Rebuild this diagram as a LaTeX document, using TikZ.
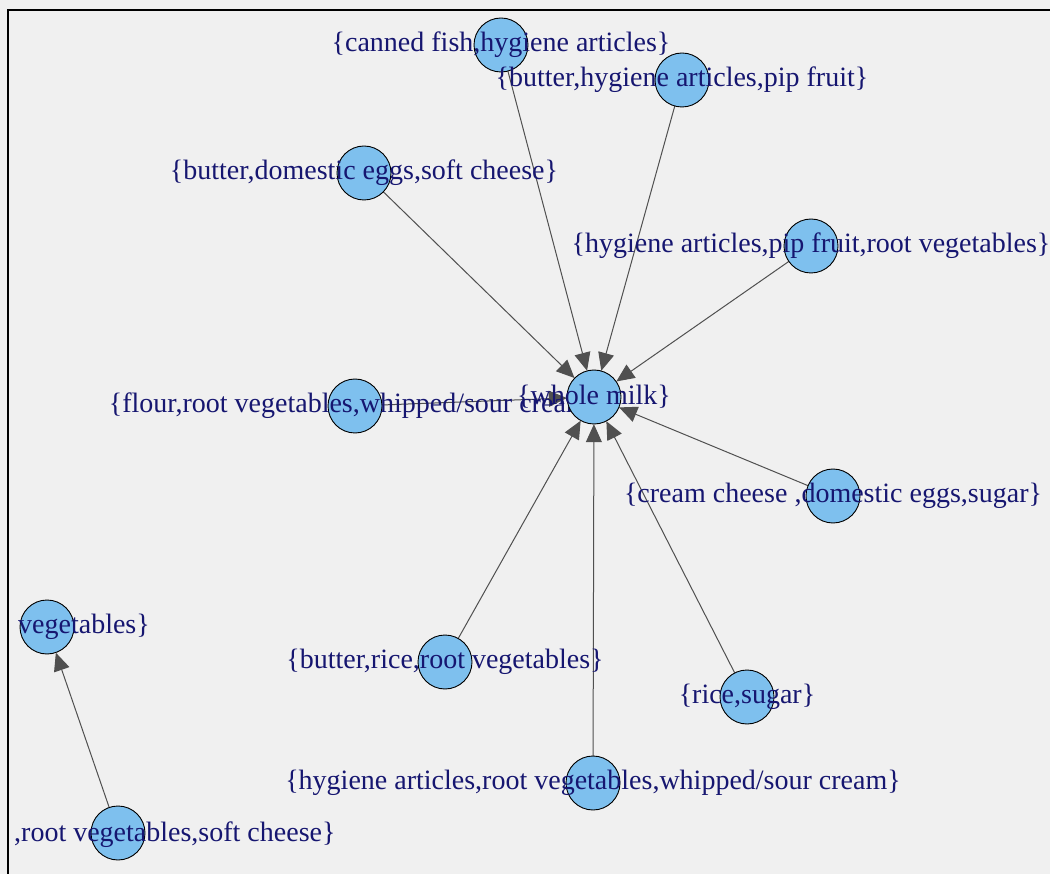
\documentclass[tikz,border=0pt]{standalone}
\usepackage{fontspec}
\setmainfont{Liberation Serif}
\usetikzlibrary{arrows.meta}
\definecolor{bg}{HTML}{F0F0F0}
\definecolor{vfill}{HTML}{7EC0EE}
\definecolor{lbl}{RGB}{22,22,112}
\definecolor{edgecol}{HTML}{505050}
\tikzset{
  vert/.style={circle,draw=black,line width=0.9pt,fill=vfill,minimum size=54pt,inner sep=0pt},
  lab/.style={text=lbl,font=\fontsize{28}{30}\selectfont,inner sep=0pt},
  edge/.style={draw=edgecol,line width=1pt,-{Triangle[length=18pt,width=16pt]}}
}
\begin{document}
\begin{tikzpicture}[x=1pt,y=-1pt]
\fill[bg] (0,0) rectangle (1050,874);
\useasboundingbox (0,0) rectangle (1050,874);
\draw[line width=2.2pt] (8,874) -- (8,10) -- (1050,10);
% vertex positions
\path
  (594,397) coordinate (pwm)
  (501,45) coordinate (pcf)
  (682,80) coordinate (pbhp)
  (364,173) coordinate (pbds)
  (811,246) coordinate (phpr)
  (355,406) coordinate (pfrw)
  (833,496) coordinate (pcds)
  (445,662) coordinate (pbrr)
  (747,697) coordinate (prs)
  (593,783) coordinate (phrw)
  (47,627) coordinate (pveg)
  (118,833) coordinate (prvs);
% invisible shape nodes for edges
\foreach \n in {wm,cf,bhp,bds,hpr,frw,cds,brr,rs,hrw,veg,rvs}
  \node[circle,minimum size=54pt,inner sep=0pt] (\n) at (p\n) {};
% edges
\draw[edge] (cf) -- (wm);
\draw[edge] (bhp) -- (wm);
\draw[edge] (bds) -- (wm);
\draw[edge] (hpr) -- (wm);
\draw[edge] (frw) -- (wm);
\draw[edge] (cds) -- (wm);
\draw[edge] (brr) -- (wm);
\draw[edge] (rs) -- (wm);
\draw[edge] (hrw) -- (wm);
\draw[edge] (rvs) -- (veg);
% vertices and labels
\node[vert] (cfC) at (pcf) {};
\node[lab] (cfL) at (pcf) {\{canned fish,hygiene articles\}};
\node[vert] (bhpC) at (pbhp) {};
\node[lab] (bhpL) at (pbhp) {\{butter,hygiene articles,pip fruit\}};
\node[vert] (bdsC) at (pbds) {};
\node[lab] (bdsL) at (pbds) {\{butter,domestic eggs,soft cheese\}};
\node[vert] (hprC) at (phpr) {};
\node[lab] (hprL) at (phpr) {\{hygiene articles,pip fruit,root vegetables\}};
\node[vert] (cdsC) at (pcds) {};
\node[lab] (cdsL) at (pcds) {\{cream cheese ,domestic eggs,sugar\}};
\node[vert] (brrC) at (pbrr) {};
\node[lab] (brrL) at (pbrr) {\{butter,rice,root vegetables\}};
\node[vert] (rsC) at (prs) {};
\node[lab] (rsL) at (prs) {\{rice,sugar\}};
\node[vert] (hrwC) at (phrw) {};
\node[lab] (hrwL) at (phrw) {\{hygiene articles,root vegetables,whipped/sour cream\}};
\node[vert] (vegC) at (pveg) {};
\node[lab,anchor=west] (vegL) at (18,627) {vegetables\}};
\node[vert] (rvsC) at (prvs) {};
\node[lab,anchor=west] (rvsL) at (14,835) {,root vegetables,soft cheese\}};
\node[vert] (frwC) at (pfrw) {};
\node[lab] (frwL) at (pfrw) {\{flour,root vegetables,whipped/sour cream\}};
\node[vert] (wmC) at (pwm) {};
\node[lab] (wmL) at (pwm) {\{whole milk\}};
\end{tikzpicture}
\end{document}
